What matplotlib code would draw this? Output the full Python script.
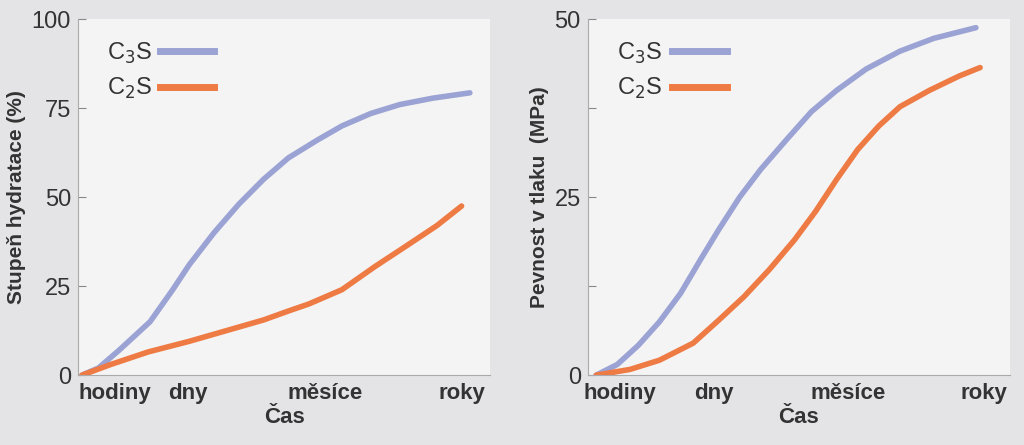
import matplotlib.pyplot as plt

plt.rcParams["font.family"] = "Liberation Sans"

tick_labels = ["hodiny", "dny", "měsíce", "roky"]

# left panel: degree of hydration (%)
left_ticks = [0.9, 2.67, 6.0, 9.3]
left_c3s_x = [0.1, 0.5, 1.0, 1.75, 2.3, 2.7, 3.3, 3.9, 4.5, 5.1, 5.8, 6.4, 7.1, 7.8, 8.6, 9.5]
left_c3s_y = [0, 2, 7, 15, 24, 31, 40, 48, 55, 61, 66, 70, 73.5, 76, 77.8, 79.3]
left_c2s_x = [0.1, 0.8, 1.7, 2.7, 3.6, 4.5, 5.1, 5.6, 6.4, 7.2, 8.0, 8.7, 9.3]
left_c2s_y = [0, 3, 6.5, 9.5, 12.5, 15.5, 18, 20, 24, 30.5, 36.6, 42, 47.5]

# right panel: compressive strength (MPa)
right_ticks = [0.76, 3.0, 6.16, 9.4]
right_c3s_x = [0.2, 0.7, 1.2, 1.7, 2.2, 2.7, 3.1, 3.6, 4.1, 4.7, 5.3, 5.9, 6.6, 7.4, 8.2, 9.2]
right_c3s_y = [0, 1.5, 4.2, 7.5, 11.5, 16.5, 20.4, 25, 28.9, 33, 37, 40, 43, 45.5, 47.3, 48.8]
right_c2s_x = [0.2, 1.0, 1.7, 2.5, 3.1, 3.7, 4.3, 4.9, 5.4, 5.9, 6.4, 6.9, 7.4, 8.1, 8.8, 9.3]
right_c2s_y = [0, 0.8, 2.1, 4.5, 7.7, 11, 14.8, 19, 23, 27.5, 31.7, 35, 37.7, 40, 42, 43.2]

c3s_color = "#9ba3d4"
c2s_color = "#ee7a44"
bg = "#e4e4e6"

fig = plt.figure(figsize=(10.24, 4.45), dpi=100, facecolor=bg)
ax1 = fig.add_axes([0.076, 0.157, 0.403, 0.8])
ax2 = fig.add_axes([0.574, 0.157, 0.412, 0.8])

panels = [
    (ax1, left_ticks, left_c3s_x, left_c3s_y, left_c2s_x, left_c2s_y,
     [0, 25, 50, 75, 100], ["0", "25", "50", "75", "100"], 100, "Stupeň hydratace (%)"),
    (ax2, right_ticks, right_c3s_x, right_c3s_y, right_c2s_x, right_c2s_y,
     [0, 12.5, 25, 37.5, 50], ["0", "", "25", "", "50"], 50, "Pevnost v tlaku  (MPa)"),
]

for ax, xt, x3, y3, x2, y2, yt, ytl, ymax, ylabel in panels:
    ax.set_facecolor("#f4f4f4")
    ax.plot(x3, y3, color=c3s_color, lw=4, solid_capstyle="round")
    ax.plot(x2, y2, color=c2s_color, lw=4, solid_capstyle="round")
    ax.set_xlim(0, 10)
    ax.set_ylim(0, ymax)
    ax.set_xticks(xt)
    ax.set_xticklabels(tick_labels, fontsize=16, fontweight="bold", color="#333333")
    ax.set_yticks(yt)
    ax.set_yticklabels(ytl, fontsize=17, color="#333333")
    ax.tick_params(axis="x", length=0, pad=6)
    ax.tick_params(axis="y", length=6, color="#888888", direction="in", pad=5)
    ax.set_xlabel("Čas", fontsize=16, fontweight="bold", color="#333333", labelpad=2)
    ax.set_ylabel(ylabel, fontsize=15, fontweight="bold", color="#333333")
    for s in ["top", "right"]:
        ax.spines[s].set_visible(False)
    for s in ["left", "bottom"]:
        ax.spines[s].set_color("#aaaaaa")
    ax.text(0.07, 0.905, "C$_3$S", transform=ax.transAxes, fontsize=17, color="#333333", va="center")
    ax.text(0.07, 0.805, "C$_2$S", transform=ax.transAxes, fontsize=17, color="#333333", va="center")
    ax.plot([0.2, 0.33], [0.91, 0.91], transform=ax.transAxes, color=c3s_color, lw=5)
    ax.plot([0.2, 0.33], [0.81, 0.81], transform=ax.transAxes, color=c2s_color, lw=5)

fig.savefig("out.png", dpi=100, facecolor=bg)
